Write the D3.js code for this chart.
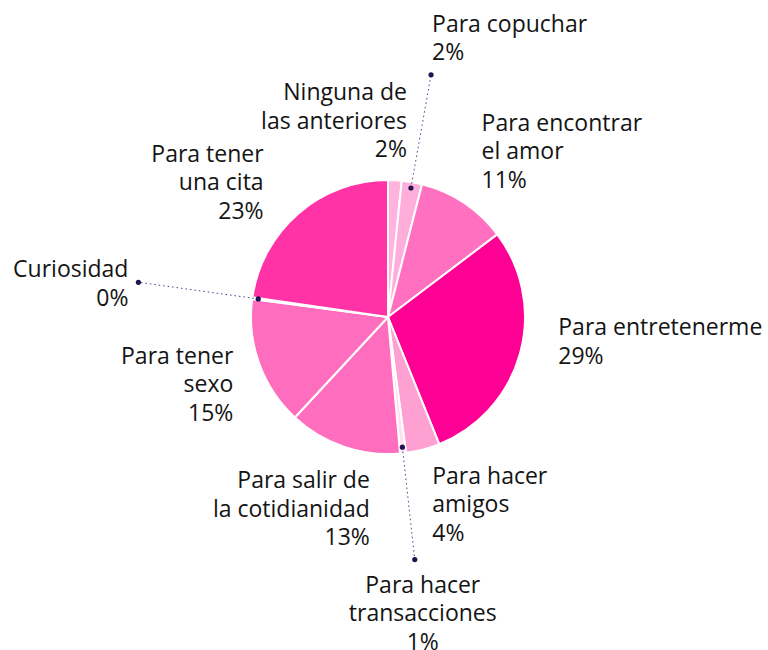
<!DOCTYPE html>
<html>
<head>
<meta charset="utf-8">
<script src="https://cdn.jsdelivr.net/npm/d3@7"></script>
<style>
    body { margin: 0; background: #fff; }
    .chart text { font-family: "Open Sans", sans-serif; font-size: 23px; fill: #141414; }
    .leader { stroke: #4b3f8f; stroke-width: 1; stroke-dasharray: 1.5 3; fill: none; }
    .leader-dot { fill: #20134f; }
</style>
</head>
<body>
<div id="chart"></div>
<script>
// Data
const categories = [
    'Ninguna de las anteriores', 'Para copuchar', 'Para encontrar el amor', 'Para entretenerme',
    'Para hacer amigos', 'Para hacer transacciones', 'Para salir de la cotidianidad',
    'Para tener sexo', 'Curiosidad', 'Para tener una cita'
];
const values = [1.6, 2.4, 10.7, 29.2, 4.0, 0.7, 13.3, 15.2, 0.2, 22.7];
const labelLines = [
    ['Ninguna de', 'las anteriores'],
    ['Para copuchar'],
    ['Para encontrar', 'el amor'],
    ['Para entretenerme'],
    ['Para hacer', 'amigos'],
    ['Para hacer', 'transacciones'],
    ['Para salir de', 'la cotidianidad'],
    ['Para tener', 'sexo'],
    ['Curiosidad'],
    ['Para tener', 'una cita']
];
const colors = ['#ffb3de', '#ffaedb', '#ff70c0', '#ff0095', '#ffa0d3', '#ffdff0', '#ff6ebe', '#ff6ebe', '#ff6ebe', '#ff33a5'];

// Label layout (hand tuned)
const labelCfg = {
    'Ninguna de las anteriores':     {anchor: 'end',    dx: 11,  dy: -59},
    'Para copuchar':                 {anchor: 'start',  dx: 1,   dy: -43, leader: 246},
    'Para encontrar el amor':        {anchor: 'start',  dx: 6,   dy: -55},
    'Para entretenerme':             {anchor: 'start',  dx: 18,  dy: -24},
    'Para hacer amigos':             {anchor: 'start',  dx: 4,   dy: 14},
    'Para hacer transacciones':      {anchor: 'middle', dx: 8,   dy: 33,  leader: 244},
    'Para salir de la cotidianidad': {anchor: 'end',    dx: 33,  dy: 22},
    'Para tener sexo':               {anchor: 'end',    dx: -6,  dy: -7},
    'Curiosidad':                    {anchor: 'end',    dx: -10, dy: -5,  leader: 252},
    'Para tener una cita':           {anchor: 'end',    dx: -21, dy: -36}
};

const cfg = {width: 768, height: 650, cx: 388, cy: 317, radius: 137, labelR: 158, innerDotR: 131, lineHeight: 28.5};

const data = categories.map(function(c, i) {
    return {key: c, value: values[i], lines: labelLines[i].concat([Math.round(values[i]) + '%']), color: colors[i]};
});

const svg = d3.select('#chart').append('svg')
    .attr('class', 'chart')
    .attr('width', cfg.width)
    .attr('height', cfg.height);

const g = svg.append('g').attr('transform', 'translate(' + cfg.cx + ',' + cfg.cy + ')');

const pie = d3.pie().sort(null).value(function(d) { return d.value; });
const arcs = pie(data);

const arc = d3.arc().innerRadius(0).outerRadius(cfg.radius);

g.selectAll('.slice')
    .data(arcs)
    .enter().append('path')
    .attr('class', 'slice')
    .attr('d', arc)
    .attr('fill', function(d) { return d.data.color; })
    .attr('stroke', '#fff')
    .attr('stroke-width', 2)
    .attr('stroke-linejoin', 'round');

function polar(a, r) {
    return [r * Math.sin(a), -r * Math.cos(a)];
}

// LABELS
arcs.forEach(function(d) {
    const c = labelCfg[d.data.key];
    const mid = (d.startAngle + d.endAngle) / 2;
    let p;
    if (c.leader) {
        const p0 = polar(mid, cfg.innerDotR);
        p = polar(mid, c.leader);
        g.append('line').attr('class', 'leader')
            .attr('x1', p0[0]).attr('y1', p0[1])
            .attr('x2', p[0]).attr('y2', p[1]);
        g.append('circle').attr('class', 'leader-dot').attr('cx', p0[0]).attr('cy', p0[1]).attr('r', 2.6);
        g.append('circle').attr('class', 'leader-dot').attr('cx', p[0]).attr('cy', p[1]).attr('r', 2.6);
    } else {
        p = polar(mid, cfg.labelR);
    }

    const t = g.append('text')
        .attr('text-anchor', c.anchor)
        .attr('x', p[0] + c.dx)
        .attr('y', p[1] + c.dy);

    d.data.lines.forEach(function(l, i) {
        t.append('tspan')
            .attr('x', p[0] + c.dx)
            .attr('y', p[1] + c.dy + i * cfg.lineHeight)
            .text(l);
    });
});
</script>
</body>
</html>
